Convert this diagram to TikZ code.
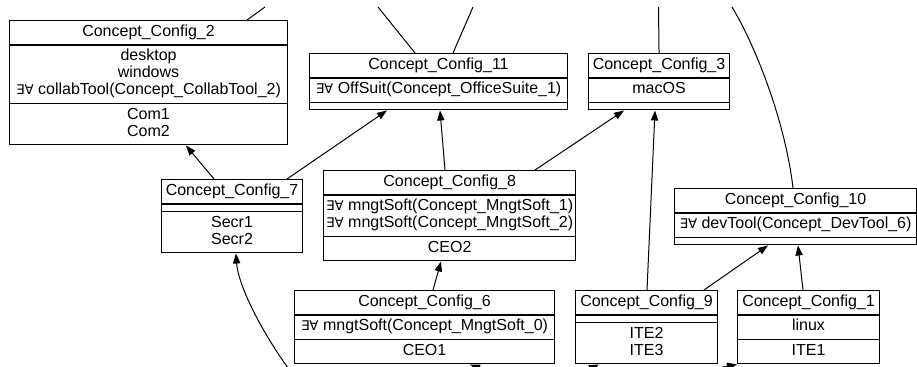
\documentclass[tikz,border=0pt]{standalone}
\usepackage{fontspec}
\setmainfont{Liberation Sans}
\newfontfamily\quantfont{DejaVu Sans}
\usetikzlibrary{shapes.multipart,arrows.meta}

% the quantifier pair in front of each role
\newcommand{\qq}{{\quantfont\fontsize{10}{12.75}\selectfont ∃∀}}
% a part with no text in it
\newcommand{\nopart}{\rule{0.01pt}{0pt}}
\newcommand{\boxfont}{\fontsize{12}{12.75}\selectfont\lineskiplimit=-3pt\relax}

\tikzset{
  concept/.style={draw, line width=0.8pt, rectangle split, rectangle split parts=3,
    anchor=north west, align=center, inner xsep=2pt, inner ysep=2.4pt,
    font=\boxfont},
  isa/.style={line width=0.75pt, -{Triangle[length=7.5pt,width=5.5pt]}},
  cut/.style={line width=0.75pt}
}

\begin{document}
\begin{tikzpicture}[x=0.75pt,y=0.75pt,yscale=-1,xscale=1]
\useasboundingbox (0,0) rectangle (917,367);
\clip (0,0) rectangle (917,367);

%Shape: Concept box [c2]
\node [concept, minimum width=208.5pt] (c2) at (9,20)
  {\strut Concept\_Config\_2
   \nodepart{two}\strut desktop\\\strut windows\\\strut\qq{} collabTool(Concept\_CollabTool\_2)
   \nodepart{three}\strut Com1\\\strut Com2};
%Shape: Concept box [c11]
\node [concept, minimum width=193.5pt] (c11) at (309,53)
  {\strut Concept\_Config\_11
   \nodepart{two}\strut\qq{} OffSuit(Concept\_OfficeSuite\_1)
   \nodepart{three}\nopart};
%Shape: Concept box [c3]
\node [concept, minimum width=105.75pt] (c3) at (588,53)
  {\strut Concept\_Config\_3
   \nodepart{two}\strut macOS
   \nodepart{three}\nopart};
%Shape: Concept box [c7]
\node [concept, minimum width=105.75pt] (c7) at (161,179)
  {\strut Concept\_Config\_7
   \nodepart{two}\nopart
   \nodepart{three}\strut Secr1\\\strut Secr2};
%Shape: Concept box [c8]
\node [concept, minimum width=172.5pt] (c8) at (323,170)
  {\strut Concept\_Config\_8
   \nodepart{two}\strut\qq{} mngtSoft(Concept\_MngtSoft\_1)\\\strut\qq{} mngtSoft(Concept\_MngtSoft\_2)
   \nodepart{three}\strut CEO2};
%Shape: Concept box [c10]
\node [concept, minimum width=181.5pt] (c10) at (674,188)
  {\strut Concept\_Config\_10
   \nodepart{two}\strut\qq{} devTool(Concept\_DevTool\_6)
   \nodepart{three}\nopart};
%Shape: Concept box [c6]
\node [concept, minimum width=195pt] (c6) at (294,290)
  {\strut Concept\_Config\_6
   \nodepart{two}\strut\qq{} mngtSoft(Concept\_MngtSoft\_0)
   \nodepart{three}\strut CEO1};
%Shape: Concept box [c9]
\node [concept, minimum width=106.5pt] (c9) at (575,290)
  {\strut Concept\_Config\_9
   \nodepart{two}\nopart
   \nodepart{three}\strut ITE2\\\strut ITE3};
%Shape: Concept box [c1]
\node [concept, minimum width=106.5pt] (c1) at (737,290)
  {\strut Concept\_Config\_1
   \nodepart{two}\strut linux
   \nodepart{three}\strut ITE1};

% loose ends, where the edges leave the picture
\coordinate (top2) at (265,7);
\coordinate (top11a) at (378,7);
\coordinate (top11b) at (473,7);
\coordinate (top3) at (658.5,7);
\coordinate (top10) at (732,7);
\coordinate (low7) at (291,372);
\coordinate (low6) at (494,374);
\coordinate (low9) at (578,374);
\coordinate (low1) at (696,372);

%Straight Lines
\draw [isa] (214,0 |- c7.north) -- (186,0 |- c2.south);
\draw [isa] (287,0 |- c7.north) -- (387,0 |- c11.south);
\draw [isa] (445,0 |- c8.north) -- (440,0 |- c11.south);
\draw [isa] (535,0 |- c8.north) -- (624,0 |- c3.south);
\draw [isa] (433,0 |- c6.north) -- (441,0 |- c8.south);
\draw [isa] (647,0 |- c9.north) -- (655,0 |- c3.south);
\draw [isa] (704,0 |- c9.north) -- (768,0 |- c10.south);
\draw [isa] (803,0 |- c1.north) -- (798,0 |- c10.south);
\draw [isa] (low6) -- (470,0 |- c6.south);
\draw [isa] (low9) -- (599,0 |- c9.south);
\draw [isa] (low1) -- (c1.south west);
\draw [cut] (247,0 |- c2.north) -- (top2);
\draw [cut] (415,0 |- c11.north) -- (top11a);
\draw [cut] (453,0 |- c11.north) -- (top11b);
\draw [cut] (c3.north) -- (top3);
%Curves
\draw [isa] (low7) .. controls (262,333) and (238,285) .. (236,0 |- c7.south);
\draw [cut] (793,0 |- c10.north) .. controls (785,120) and (755,45) .. (top10);

\end{tikzpicture}
\end{document}
